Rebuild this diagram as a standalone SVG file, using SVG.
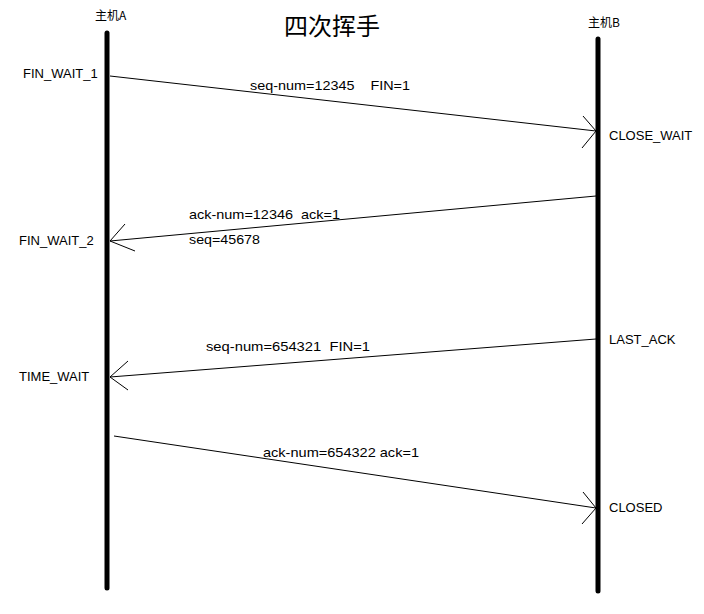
<svg xmlns="http://www.w3.org/2000/svg" width="704" height="614" viewBox="0 0 704 614">
<style>
.t{font-family:"Liberation Sans","Noto Sans CJK SC",sans-serif;font-size:13px;fill:#000}
.m{font-family:"Liberation Sans","Noto Sans CJK SC",sans-serif;font-size:13.5px;fill:#000}
.c{font-family:"Noto Sans CJK SC",sans-serif;font-size:12px;fill:#000}
.life{stroke:#000;stroke-width:5;stroke-linecap:round;fill:none}
.msg{stroke:#000;stroke-width:1;fill:none}
</style>
<rect width="704" height="614" fill="#fff"/>
<text x="284" y="35" style="font-family:'Noto Sans CJK SC',sans-serif;font-size:24px">四次挥手</text>
<g id="hostA">
<text class="c" x="95" y="20">主机A</text>
<line class="life" x1="107" y1="33" x2="107" y2="588"/>
</g>
<g id="hostB">
<text class="c" x="588" y="27">主机B</text>
<line class="life" x1="598" y1="39" x2="598" y2="591"/>
</g>
<g id="states">
<text class="t" x="23" y="78">FIN_WAIT_1</text>
<text class="t" x="19" y="245">FIN_WAIT_2</text>
<text class="t" x="19" y="381">TIME_WAIT</text>
<text class="t" x="609" y="140">CLOSE_WAIT</text>
<text class="t" x="609" y="344">LAST_ACK</text>
<text class="t" x="609" y="512">CLOSED</text>
</g>
<g id="connectors">
<line class="msg" x1="110" y1="76" x2="596" y2="131"/>
<polyline class="msg" points="583,116 596,131 582,148"/>
<line class="msg" x1="596" y1="196" x2="110" y2="241"/>
<polyline class="msg" points="125,224 110,241 135,251"/>
<line class="msg" x1="596" y1="339" x2="110" y2="377"/>
<polyline class="msg" points="128,361 110,377 128,390"/>
<line class="msg" x1="114" y1="436" x2="596" y2="508"/>
<polyline class="msg" points="583,492 596,508 582,524"/>
</g>
<g id="labels">
<text class="m" x="250" y="90" xml:space="preserve" textLength="160" lengthAdjust="spacingAndGlyphs">seq-num=12345    FIN=1</text>
<text class="m" x="189" y="219" xml:space="preserve" textLength="151" lengthAdjust="spacingAndGlyphs">ack-num=12346  ack=1</text>
<text class="m" x="189" y="244" textLength="71" lengthAdjust="spacingAndGlyphs">seq=45678</text>
<text class="m" x="206" y="351" xml:space="preserve" textLength="164" lengthAdjust="spacingAndGlyphs">seq-num=654321  FIN=1</text>
<text class="m" x="263" y="457" textLength="156" lengthAdjust="spacingAndGlyphs">ack-num=654322 ack=1</text>
</g>
</svg>
